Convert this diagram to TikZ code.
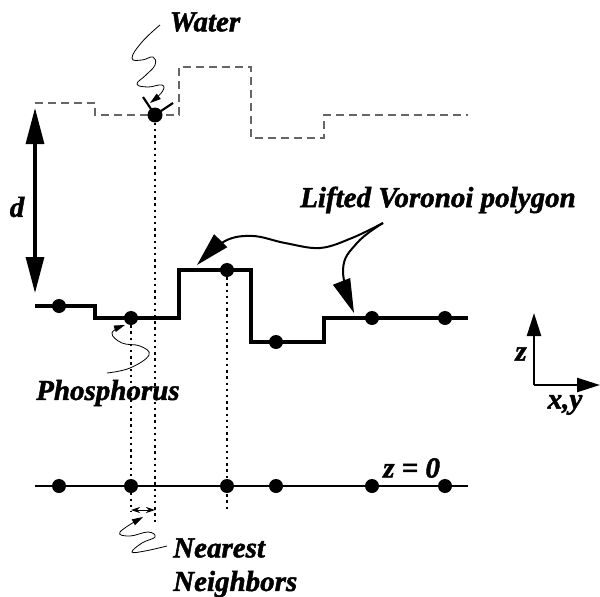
\documentclass[tikz,border=0pt]{standalone}
\usepackage{fontspec}
\setmainfont{Liberation Serif}[BoldItalicFeatures={FakeBold=1.6}]
\usetikzlibrary{arrows.meta}
\tikzset{
  lbl/.style={font=\fontsize{29}{32}\selectfont\bfseries\itshape, inner sep=0pt, text=black, align=left},
  atom/.style={circle, fill=black, draw=none, minimum size=14pt, inner sep=0pt},
  wateratom/.style={atom, minimum size=15pt},
  surface/.style={line width=3.5pt, black, line join=miter},
  probe/.style={line width=1.1pt, black!60, dash pattern=on 8pt off 5pt},
  base/.style={line width=2.8pt, black},
  guide/.style={line width=2.4pt, black, dash pattern=on 2.4pt off 3.8pt},
  bigarrow/.style={line width=3.2pt, -{Triangle[length=36pt,width=18pt]}},
  axis/.style={line width=2.4pt, -{Triangle[length=23pt,width=14pt]}},
  squiggle/.style={line width=.8pt, black, -{Triangle[length=11pt,width=6.5pt]}},
  lifted/.style={line width=2pt, black, -{Triangle[length=34pt,width=18pt]}},
}
\begin{document}
\begin{tikzpicture}[x=1pt,y=-1pt]
\useasboundingbox (0,0) rectangle (600,597);
% probe surface
\draw[probe] (35,103) -- (95,103) -- (95,115) -- (179,115) -- (179,67) -- (251,67) -- (251,138) -- (324,138) -- (324,115) -- (468,115);
% guides
\node[wateratom] (w) at (155,115) {};
\node[atom] (p1) at (59,306) {};
\node[atom] (p2) at (131,318) {};
\node[atom] (p3) at (227,270) {};
\node[atom] (p4) at (276,342) {};
\node[atom] (p5) at (372,318) {};
\node[atom] (p6) at (445,318) {};
\node[atom] (b1) at (59,486) {};
\node[atom] (b2) at (131,486) {};
\node[atom] (b3) at (227,486) {};
\node[atom] (b4) at (276,486) {};
\node[atom] (b5) at (372,486) {};
\node[atom] (b6) at (445,486) {};
\coordinate (g1) at (155,522);
\coordinate (g2) at (131,512);
\coordinate (g3) at (227,512);
\draw[guide] (w) -- (g1);
\draw[guide] (p2) -- (g2);
\draw[guide] (p3) -- (g3);
% surfaces
\draw[surface] (35,306) -- (95,306) -- (95,318) -- (179,318) -- (179,270) -- (251,270) -- (251,342) -- (324,342) -- (324,318) -- (468,318);
\draw[base] (35,486) -- (468,486);
% water hydrogens
\coordinate (h1) at (143,97);
\coordinate (h2) at (173,103);
\draw[line width=2.2pt] (w.center) -- (h1);
\draw[line width=2.2pt] (w.center) -- (h2);
% d arrow
\coordinate (dm) at (35,200);
\coordinate (dt) at (35,108);
\coordinate (db) at (35,293);
\draw[bigarrow] (dm) -- (dt);
\draw[bigarrow] (dm) -- (db);
% axes
\coordinate (o) at (534,385);
\coordinate (zt) at (534,313);
\coordinate (xt) at (600,385);
\draw[axis] (o) -- (zt);
\draw[axis] (o) -- (xt);
% labels
\node[lbl] (water) at (205,22) {Water};
\node[lbl] (d) at (17,207) {d};
\node[lbl,anchor=west] (lv) at (300,200) {Lifted Voronoi polygon};
\node[lbl,anchor=west] (ph) at (36,393) {Phosphorus};
\node[lbl,anchor=west] (zz) at (383,468) {z = 0};
\node[lbl,anchor=west] (nn) at (173,548) {Nearest};
\node[lbl,anchor=west] (ng) at (173,584) {Neighbors};
\node[lbl] (zl) at (521,354) {z};
\node[lbl] (xy) at (565,405) {x,y};
% squiggles
\coordinate (ws) at (160,25);
\coordinate (wt) at (150,103);
\draw[squiggle] plot[smooth,tension=.75] coordinates {(ws) (142,42) (132,58) (142,60) (153,57) (155,65) (146,75) (137,84) (148,87) (162,85) (162,92) (wt)};
\coordinate (ps) at (107,373);
\coordinate (pt) at (125,325);
\draw[squiggle] plot[smooth,tension=.7] coordinates {(ps) (130,368) (149,355) (140,346) (122,343) (112,333) (pt)};
\coordinate (ns) at (167,546);
\coordinate (nt) at (143,517);
\draw[squiggle] plot[smooth,tension=.7] coordinates {(ns) (145,551) (132,552) (142,543) (155,537) (148,532) (130,536) (120,532) (nt)};
\coordinate (la) at (131,510);
\coordinate (lb) at (155,510);
\draw[line width=.8pt,{Stealth[length=9pt,width=6pt]}-{Stealth[length=9pt,width=6pt]}] (la) -- (lb);
% lifted arrows
\coordinate (ls) at (383,223);
\coordinate (lt1) at (197,265);
\coordinate (lt2) at (354,313);
\draw[lifted] plot[smooth,tension=.6] coordinates {(ls) (352,238) (320,248) (285,243) (253,236) (225,241) (lt1)};
\draw[lifted] plot[smooth,tension=.7] coordinates {(ls) (357,243) (343,270) (lt2)};
\end{tikzpicture}
\end{document}
